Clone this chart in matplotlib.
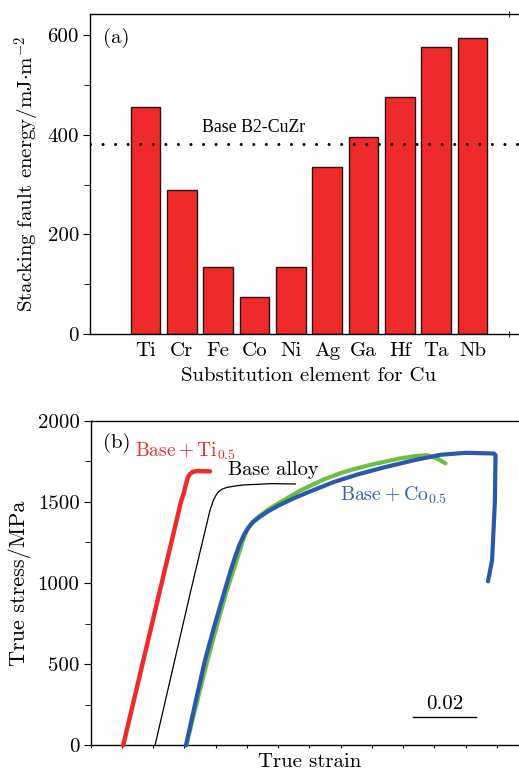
import matplotlib
matplotlib.use("Agg")
import matplotlib.pyplot as plt
import numpy as np
from matplotlib.ticker import MultipleLocator, FixedLocator, NullFormatter

plt.rcParams['font.family'] = ['cmr10', 'DejaVu Serif']
plt.rcParams['mathtext.fontset'] = 'cm'
plt.rcParams['axes.unicode_minus'] = False
plt.rcParams['axes.linewidth'] = 1.0

# ---------------- data: panel (a) ----------------
elements = ["Ti", "Cr", "Fe", "Co", "Ni", "Ag", "Ga", "Hf", "Ta", "Nb"]
sfe = [457, 290, 135, 75, 135, 336, 396, 477, 577, 594]
base_sfe = 382

# ---------------- data: panel (b) ----------------
ti_strain = [0.0104, 0.0222, 0.0289, 0.0299, 0.0305, 0.0311, 0.0318, 0.0326, 0.0340, 0.0382]
ti_stress = [0, 957, 1500, 1560, 1610, 1650, 1672, 1684, 1690, 1688]

base_strain = [0.0206, 0.0321, 0.0382, 0.0393, 0.0401, 0.0409, 0.0420, 0.0436, 0.0460, 0.0489, 0.0575, 0.0655]
base_stress = [0, 957, 1449, 1511, 1540, 1562, 1578, 1589, 1597, 1604, 1612, 1610]

co_g_strain = [0.0306, 0.0340, 0.0374, 0.0405, 0.0435, 0.0468, 0.0485, 0.0500, 0.0515, 0.0535, 0.0570,
               0.0600, 0.0671, 0.0746, 0.0810, 0.0895, 0.0991, 0.1040, 0.1077, 0.1109, 0.1136]
co_g_stress = [0, 265, 525, 745, 950, 1142, 1250, 1325, 1368, 1405, 1455,
               1490, 1570, 1638, 1684, 1728, 1768, 1782, 1788, 1767, 1737]

co_b_strain = [0.0305, 0.0336, 0.0366, 0.0398, 0.0430, 0.0455, 0.0475, 0.0490, 0.0505, 0.0520, 0.0540,
               0.0564, 0.0600, 0.0650, 0.0697, 0.0778, 0.0853, 0.0938, 0.1034, 0.1120, 0.1200,
               0.1290, 0.1296, 0.1294, 0.1285, 0.1272]
co_b_stress = [0, 270, 525, 750, 960, 1120, 1230, 1295, 1342, 1376, 1405,
               1437, 1476, 1522, 1560, 1622, 1668, 1712, 1756, 1790, 1802,
               1798, 1788, 1500, 1140, 1010]

scale_strain = [0.1033, 0.1233]
scale_stress = 176

W, H = 519, 771
fig = plt.figure(figsize=(W / 100, H / 100), dpi=100)

def px_axes(left, top, right, bottom):
    return fig.add_axes([left / W, 1 - bottom / H, (right - left) / W, (bottom - top) / H])

FS = 15

# ---------------- panel (a) ----------------
ax1 = px_axes(90, 14, 528, 334)
x = np.arange(len(elements))
ax1.bar(x, sfe, width=0.82, color="#EE2A2A", edgecolor="#2a1414", linewidth=1.0, zorder=2)
ax1.axhline(base_sfe, color="black", lw=2.2, linestyle=(0, (0.01, 4.1)),
            dash_capstyle="round", zorder=3)
ax1.text(1.56, 414, "Base B2-CuZr", family="Liberation Serif", fontsize=12.8,
         va="center", ha="left", zorder=4)
ax1.text(0.03, 0.925, "(a)", transform=ax1.transAxes, fontsize=FS, va="center", ha="left")
ax1.set_xlim(-1.53, 10.53)
ax1.set_ylim(0, 643)
ax1.yaxis.set_major_locator(MultipleLocator(200))
ax1.yaxis.set_minor_locator(MultipleLocator(100))
ax1.set_xticks(x)
ax1.set_xticklabels(elements, fontsize=FS)
ax1.tick_params(axis="x", which="major", length=0, pad=6)
ax1.xaxis.set_minor_locator(FixedLocator(np.arange(0, 11, 2)))
ax1.tick_params(axis="x", which="minor", direction="inout", length=4, top=True, bottom=True)
ax1.tick_params(axis="y", which="major", direction="out", length=5, labelsize=FS, pad=3)
ax1.tick_params(axis="y", which="minor", direction="out", length=4)
ax1.set_xlabel("Substitution element for Cu", fontsize=FS, labelpad=5)
ax1.set_ylabel(r"Stacking fault energy/mJ$\cdot$m$^{-2}$", fontsize=FS, labelpad=4)

# ---------------- panel (b) ----------------
ax2 = px_axes(90.7, 420.7, 528, 745.3)
ax2.plot(ti_strain, ti_stress, color="#EE2B2B", lw=3.2, solid_capstyle="round", clip_on=False, zorder=3)
ax2.plot(base_strain, base_stress, color="black", lw=0.9, clip_on=False, zorder=3)
ax2.plot(co_g_strain, co_g_stress, color="#6DBE45", lw=3.0, solid_capstyle="round", clip_on=False, zorder=3)
ax2.plot(co_b_strain, co_b_stress, color="#2A58AA", lw=3.0, solid_capstyle="round", clip_on=False, zorder=4)
ax2.plot(scale_strain, [scale_stress, scale_stress], color="black", lw=1.0)
ax2.text(np.mean(scale_strain), 254, "0.02", fontsize=FS, ha="center", va="center")

ax2.text(0.0039, 1862, "(b)", fontsize=FS, ha="left", va="center")
ax2.text(0.0142, 1809, r"$\mathrm{Base+Ti}_{0.5}$", color="#EE2B2B", fontsize=14.0,
         ha="left", va="center")
ax2.text(0.0440, 1696, "Base alloy", color="black", fontsize=14.6, ha="left", va="center")
ax2.text(0.0799, 1542, r"$\mathrm{Base+Co}_{0.5}$", color="#3560B0", fontsize=14.3,
         ha="left", va="center")

ax2.set_xlim(0, 0.14)
ax2.set_ylim(0, 2000)
ax2.xaxis.set_major_locator(MultipleLocator(0.01))
ax2.xaxis.set_major_formatter(NullFormatter())
ax2.tick_params(axis="x", which="major", direction="out", length=2, top=False, bottom=True)
ax2.yaxis.set_major_locator(MultipleLocator(500))
ax2.yaxis.set_minor_locator(MultipleLocator(250))
ax2.tick_params(axis="y", which="major", direction="out", length=5, labelsize=FS, pad=3)
ax2.tick_params(axis="y", which="minor", direction="out", length=4)
ax2.set_xlabel("True strain", fontsize=FS, labelpad=0)
ax2.set_ylabel("True stress/MPa", fontsize=16, labelpad=5)

fig.savefig("out.png", dpi=100)
